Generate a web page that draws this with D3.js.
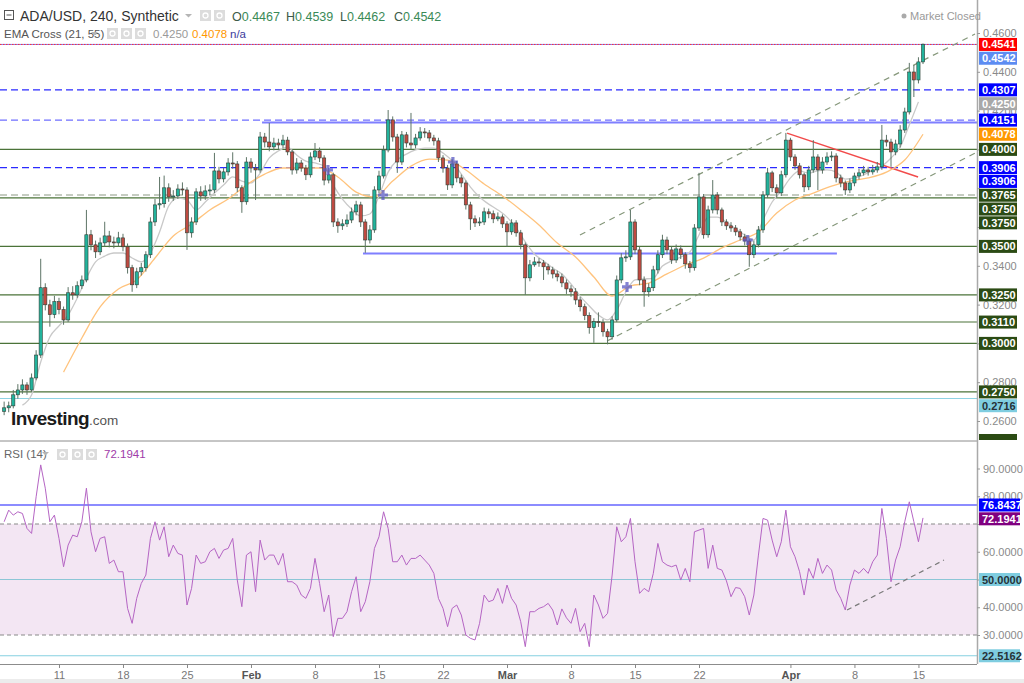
<!DOCTYPE html>
<html><head><meta charset="utf-8">
<script src="https://cdnjs.cloudflare.com/ajax/libs/d3/7.8.5/d3.min.js"></script>
<style>
body{margin:0;background:#fff;}
svg{display:block;font-family:"Liberation Sans",Arial,sans-serif;}
</style>
</head><body>
<svg id="chart" width="1024" height="683"></svg>
<script>
// ---------------- DATA ----------------
const candleStartUTC = Date.UTC(2021, 0, 5, 0, 0);   // first 12h candle
const candleHours = 12;
const firstOpen = 0.2650;
const closes = [
.2668,.2678,.2735,.2760,.2786,.2760,.2822,.2940,.3287,.3199,
.3148,.3215,.3174,.3121,.3261,.3250,.3297,.3327,.3560,.3508,
.3472,.3518,.3554,.3523,.3518,.3544,.3498,.3390,.3302,.3369,
.3390,.3457,.3626,.3714,.3720,.3802,.3755,.3760,.3796,.3791,
.3570,.3626,.3781,.3760,.3786,.3791,.3889,.3848,.3884,.3930,
.3925,.3802,.3730,.3935,.3904,.3894,.4064,.4038,.4013,.4033,
.4023,.4048,.3987,.3894,.3930,.3904,.3869,.3961,.3992,.3956,
.3842,.3869,.3626,.3606,.3616,.3636,.3678,.3714,.3626,.3533,
.3585,.3791,.3863,.3997,.4152,.4064,.3935,.4075,.4033,.4023,
.4059,.4090,.4085,.4059,.4044,.3956,.3904,.3817,.3925,.3853,
.3827,.3714,.3642,.3621,.3626,.3678,.3668,.3642,.3652,.3616,
.3575,.3621,.3570,.3508,.3338,.3405,.3420,.3415,.3395,.3379,
.3358,.3343,.3312,.3281,.3266,.3224,.3189,.3143,.3081,.3112,
.3107,.3060,.3034,.3121,.3327,.3441,.3446,.3626,.3482,.3327,
.3266,.3287,.3379,.3457,.3533,.3482,.3430,.3487,.3457,.3410,
.3390,.3595,.3755,.3560,.3688,.3765,.3688,.3626,.3606,.3595,
.3575,.3549,.3528,.3457,.3508,.3585,.3765,.3879,.3802,.3776,
.3869,.4048,.3961,.3915,.3869,.3807,.3894,.3961,.3894,.3935,
.3961,.3966,.3853,.3827,.3791,.3827,.3863,.3879,.3894,.3884,
.3894,.3910,.4048,.4038,.3987,.4028,.4100,.4193,.4399,.4358,
.4451,.4542];
const highs = [
.2700,.2700,.2760,.2790,.2815,.2800,.2845,.2965,.3436,.3310,
.3225,.3245,.3235,.3190,.3290,.3295,.3320,.3350,.3688,.3585,
.3530,.3545,.3627,.3580,.3550,.3575,.3565,.3515,.3405,.3390,
.3415,.3475,.3650,.3745,.3858,.3865,.3825,.3790,.3820,.3830,
.3805,.3650,.3800,.3810,.3815,.3820,.3982,.3910,.3905,.3955,
.3985,.3940,.3815,.3960,.3955,.3925,.4090,.4085,.4136,.4060,
.4055,.4075,.4065,.4000,.3955,.3945,.3920,.3985,.4033,.4010,
.3970,.3905,.3880,.3645,.3640,.3665,.3700,.3735,.3730,.3640,
.3610,.3810,.3890,.4020,.4203,.4170,.4080,.4095,.4090,.4188,
.4080,.4115,.4110,.4100,.4075,.4060,.3970,.3920,.3950,.3940,
.3870,.3840,.3730,.3660,.3650,.3700,.3695,.3685,.3675,.3665,
.3630,.3640,.3635,.3585,.3520,.3430,.3445,.3440,.3430,.3410,
.3395,.3375,.3360,.3330,.3300,.3285,.3240,.3205,.3160,.3130,
.3160,.3125,.3075,.3140,.3350,.3465,.3480,.3688,.3640,.3500,
.3345,.3310,.3400,.3480,.3560,.3550,.3500,.3510,.3505,.3470,
.3425,.3615,.3879,.3770,.3710,.3842,.3780,.3700,.3640,.3625,
.3610,.3590,.3565,.3540,.3530,.3605,.3785,.3905,.3890,.3820,
.3890,.4085,.4060,.3975,.3930,.3880,.3915,.4048,.3975,.3960,
.3985,.3990,.3980,.3870,.3840,.3850,.3880,.3900,.3915,.3910,
.3920,.3935,.4126,.4075,.4055,.4050,.4125,.4215,.4446,.4435,
.4475,.4546];
const lows = [
.2630,.2645,.2665,.2715,.2740,.2735,.2750,.2810,.2925,.3170,
.3086,.3130,.3150,.3096,.3110,.3225,.3235,.3280,.3315,.3480,
.3440,.3455,.3500,.3495,.3490,.3500,.3475,.3360,.3266,.3285,
.3350,.3370,.3440,.3605,.3690,.3700,.3730,.3735,.3745,.3765,
.3482,.3545,.3610,.3735,.3740,.3765,.3775,.3825,.3830,.3865,
.3900,.3780,.3673,.3715,.3880,.3739,.3880,.4010,.3990,.3995,
.4000,.4005,.3970,.3870,.3875,.3885,.3842,.3855,.3945,.3935,
.3815,.3825,.3600,.3570,.3585,.3600,.3620,.3660,.3600,.3467,
.3515,.3570,.3775,.3850,.3985,.4040,.3879,.3920,.4010,.4000,
.4005,.4045,.4060,.4040,.4020,.3935,.3880,.3791,.3800,.3830,
.3805,.3690,.3585,.3600,.3605,.3610,.3645,.3620,.3630,.3595,
.3498,.3560,.3550,.3485,.3250,.3320,.3395,.3395,.3327,.3355,
.3335,.3320,.3290,.3255,.3240,.3200,.3165,.3120,.3050,.3003,
.3085,.3035,.2995,.3020,.3110,.3310,.3420,.3430,.3460,.3300,
.3189,.3240,.3270,.3360,.3440,.3460,.3410,.3415,.3435,.3385,
.3365,.3375,.3580,.3540,.3545,.3670,.3665,.3605,.3585,.3575,
.3555,.3530,.3505,.3395,.3440,.3495,.3570,.3750,.3780,.3750,
.3760,.3855,.3940,.3895,.3850,.3780,.3790,.3880,.3790,.3875,
.3920,.3940,.3830,.3805,.3765,.3775,.3810,.3845,.3865,.3865,
.3870,.3880,.3895,.4015,.3910,.3970,.4010,.4085,.4180,.4270,
.4340,.4440];
// EMA 21 (grey) read every 2 candles starting at candle 4
const ema21Start = 4, ema21Step = 2;
const ema21Values = [
0.2682,0.2734,0.2904,0.3033,0.3090,0.3146,0.3234,0.3337,0.3420,0.3450,
0.3466,0.3466,0.3440,0.3420,0.3466,0.3574,0.3708,0.3749,0.3739,0.3688,
0.3729,0.3775,0.3816,0.3858,0.3837,0.3827,0.3878,0.3956,0.3992,0.4012,
0.3971,0.3940,0.3930,0.3914,0.3816,0.3744,0.3693,0.3657,0.3667,0.3760,
0.3883,0.3945,0.3976,0.3997,0.4007,0.4007,0.3981,0.3940,0.3873,0.3806,
0.3755,0.3718,0.3688,0.3651,0.3595,0.3523,0.3461,0.3425,0.3389,0.3358,
0.3306,0.3244,0.3193,0.3146,0.3121,0.3172,0.3265,0.3327,0.3332,0.3337,
0.3399,0.3425,0.3445,0.3471,0.3559,0.3651,0.3651,0.3626,0.3590,0.3559,
0.3533,0.3636,0.3729,0.3786,0.3853,0.3889,0.3878,0.3889,0.3894,0.3883,
0.3847,0.3853,0.3868,0.3894,0.3914,0.3956,0.4012,0.4126,0.4245];
// EMA 55 (orange) read every 4 candles starting at candle 13
const ema55Start = 13, ema55Step = 4;
const ema55Values = [
0.2852,0.3028,0.3188,0.3280,0.3327,0.3440,0.3554,0.3615,0.3688,0.3744,
0.3816,0.3873,0.3904,0.3904,0.3904,0.3858,0.3780,0.3755,0.3837,0.3914,
0.3950,0.3945,0.3894,0.3822,0.3760,0.3688,0.3610,0.3517,0.3445,0.3342,
0.3244,0.3296,0.3311,0.3358,0.3404,0.3440,0.3492,0.3533,0.3574,0.3672,
0.3739,0.3775,0.3811,0.3837,0.3853,0.3883,0.3945,0.4078];
// RSI(14) read at each candle
const rsiValues = [
70.8,75.0,73.2,74.4,73.8,68.4,66.6,79.8,91.3,82.9,
70.8,73.2,64.8,54.6,62.4,66.0,65.4,70.8,82.9,67.2,
60.0,64.8,65.4,55.8,57.0,52.8,52.8,39.6,34.2,43.2,
48.6,51.6,64.8,70.8,64.2,69.0,58.2,62.4,59.4,58.8,
40.8,46.8,58.8,55.8,56.4,60.0,61.2,57.6,60.6,61.2,
64.8,49.8,40.2,58.8,60.0,45.6,64.2,57.0,58.8,58.8,
55.2,59.4,49.2,49.2,48.0,44.4,43.2,46.8,57.6,48.6,
38.4,44.4,29.4,36.0,36.0,38.4,45.6,51.0,38.4,42.0,
49.2,61.2,65.4,74.4,68.4,56.4,56.4,58.8,55.2,57.6,
57.6,58.8,57.0,55.2,52.2,43.2,39.6,33.0,39.6,40.8,
37.2,30.0,28.8,28.2,34.2,44.4,42.0,42.6,46.8,41.4,
48.0,43.2,40.8,34.8,25.8,38.4,38.4,39.6,40.2,41.4,
39.0,33.6,39.4,36.2,34.2,39.6,31.2,34.2,25.8,44.4,
40.8,36.0,37.8,51.6,69.0,63.6,65.4,72.0,56.4,45.0,
46.8,45.6,52.2,63.0,56.4,55.2,54.6,55.2,49.8,54.0,
49.2,67.2,67.8,68.4,54.0,62.4,54.0,53.4,49.5,43.8,
47.1,46.8,43.8,37.2,44.4,58.8,72.0,71.4,64.2,58.2,
63.6,75.0,61.8,58.2,52.8,44.4,54.0,50.4,57.6,52.2,
55.2,53.4,46.2,43.2,39.0,48.0,53.4,52.2,54.0,52.2,
56.4,58.8,75.6,64.8,49.2,57.0,61.8,70.8,78.0,70.8,
63.6,72.1941];

// horizontal price levels and their kinds
const levelValues = [0.4541, 0.4307, 0.4151, 0.4000, 0.3906, 0.3765, 0.3750, 0.3500, 0.3250, 0.3110, 0.3000, 0.2750, 0.2716];
const levelKinds  = ["alert","blueDash","lightBlueDash","green","blueDash","grayDash","green","green","green","green","green","green","cyan"];
// drawn segments: [start, end, startPrice, endPrice, kind]
const segmentLines = [
  ["2021-02-02T05:00", "2021-04-21T09:43", 0.4139, 0.4139, "blueSolid"],
  ["2021-02-13T06:00", "2021-04-06T02:00", 0.3464, 0.3464, "blueSolid"],
  ["2021-03-08T23:30", "2021-04-21T04:30", 0.3559, 0.4595, "channel"],
  ["2021-03-11T22:30", "2021-04-21T04:30", 0.3012, 0.3981, "channel"],
  ["2021-03-31T15:00", "2021-04-14T23:00", 0.4084, 0.3858, "red"]
];
// EMA cross markers [time, price]
const crossMarkers = [
  ["2021-02-09T10:00", 0.3894], ["2021-02-15T10:30", 0.3765], ["2021-02-23T02:00", 0.3935],
  ["2021-03-14T03:00", 0.3291], ["2021-03-27T08:00", 0.3533]
];
// RSI trend line [time, rsi]
const rsiTrend = [["2021-04-07T04:30", 39.0], ["2021-04-17T19:00", 57.0]];
// right axis price labels (top to bottom) and kinds
const priceLabelValues = [0.4541, 0.4542, 0.4307, 0.4250, 0.4151, 0.4078, 0.4000, 0.3906, 0.3906, 0.3765, 0.3750, 0.3750, 0.3500, 0.3250, 0.3110, 0.3000, 0.2750, 0.2716];
const priceLabelKinds  = ["red","last","blue","ema21","blue","ema55","green","blue","blue","green","green","green","green","green","green","green","green","cyan"];
const priceTicks = [0.26,0.28,0.30,0.32,0.34,0.36,0.38,0.40,0.42,0.44,0.46];
const rsiTicks = [30,40,50,60,70,80,90];
const rsiLabelValues = [76.8437, 72.1941, 50.0000, 22.5162];
const rsiLabelKinds = ["blue","purple","cyan","cyan"];
const timeTicks = ["2021-01-11","2021-01-18","2021-01-25","2021-02-01","2021-02-08","2021-02-15","2021-02-22","2021-03-01","2021-03-08","2021-03-15","2021-03-22","2021-04-01","2021-04-08","2021-04-15"];
const timeTickLabels = ["11","18","25","Feb","8","15","22","Mar","8","15","22","Apr","8","15"];
const ohlcLetters = ["O","H","L","C"];
const ohlcValues = ["0.4467","0.4539","0.4462","0.4542"];
const emaHeaderValues = ["0.4250","0.4078"];

// ---------------- CHART ----------------
const svg = d3.select("#chart");
const plotRight = 977, mainBottom = 441, rsiBottom = 664;
const D = s => new Date(s + (s.length <= 10 ? "T00:00Z" : "Z"));
const x = d3.scaleUtc().domain([new Date(Date.UTC(2021,0,4,13,9)), new Date(Date.UTC(2021,3,21,9,43))]).range([0, plotRight]);
const yP = d3.scaleLinear().domain([0.26, 0.46]).range([421, 33]);
const yR = d3.scaleLinear().domain([0, 100]).range([718.25, 440.75]);
const tOf = i => new Date(candleStartUTC + i * candleHours * 3600e3);

const defs = svg.append("defs");
defs.append("clipPath").attr("id","clipMain").append("rect").attr("x",0).attr("y",0).attr("width",plotRight).attr("height",mainBottom);
defs.append("clipPath").attr("id","clipRsi").append("rect").attr("x",0).attr("y",mainBottom).attr("width",plotRight).attr("height",rsiBottom-mainBottom);

const main = svg.append("g").attr("clip-path","url(#clipMain)");
const rsiG = svg.append("g").attr("clip-path","url(#clipRsi)");

// level lines
const levelStyle = {
  alert:{c:"#7a7aff",w:1,d:null}, blueDash:{c:"#2a2aff",w:1.2,d:"7,4"}, lightBlueDash:{c:"#6f6fff",w:1.2,d:"7,4"},
  green:{c:"#4b7339",w:1.1,d:null}, grayDash:{c:"#8c9a84",w:1.2,d:"7,4"}, cyan:{c:"#8fd3e3",w:1.2,d:null}
};
levelValues.forEach((v,i)=>{
  const s = levelStyle[levelKinds[i]];
  main.append("line").attr("x1",0).attr("x2",plotRight).attr("y1",yP(v)).attr("y2",yP(v))
    .attr("stroke",s.c).attr("stroke-width",s.w).attr("stroke-dasharray",s.d);
  if (levelKinds[i]==="alert")
    main.append("line").attr("x1",0).attr("x2",plotRight).attr("y1",yP(v)).attr("y2",yP(v))
      .attr("stroke","#ff3030").attr("stroke-width",1).attr("stroke-dasharray","1.5,1.5");
});
const segStyle = {blueSolid:{c:"#7f7fff",w:2,d:null}, channel:{c:"#85977a",w:1.2,d:"6,5"}, red:{c:"#f24b4b",w:1.5,d:null}};
segmentLines.forEach(s=>{
  const st = segStyle[s[4]];
  main.append("line").attr("x1",x(D(s[0]))).attr("x2",x(D(s[1]))).attr("y1",yP(s[2])).attr("y2",yP(s[3]))
    .attr("stroke",st.c).attr("stroke-width",st.w).attr("stroke-dasharray",st.d);
});

// EMAs
const ema21Pts = ema21Values.map((v,k)=>[x(tOf(ema21Start+k*ema21Step)), yP(v)]);
const ema55Pts = ema55Values.map((v,k)=>[x(tOf(ema55Start+k*ema55Step)), yP(v)]);
const ln = d3.line().curve(d3.curveMonotoneX);
main.append("path").attr("d",ln(ema21Pts)).attr("fill","none").attr("stroke","#c9c9c9").attr("stroke-width",1.3);
main.append("path").attr("d",ln(ema55Pts)).attr("fill","none").attr("stroke","#ffc37d").attr("stroke-width",1.3);

// candles
const opens = [firstOpen].concat(closes.slice(0, -1));
const cg = main.append("g");
closes.forEach((c,i)=>{
  const o = opens[i], cx = x(tOf(i));
  const up = c >= o;
  cg.append("line").attr("x1",cx).attr("x2",cx).attr("y1",yP(highs[i])).attr("y2",yP(lows[i]))
    .attr("stroke","#5d7466").attr("stroke-width",1);
  const yt = yP(Math.max(o,c)), yb = yP(Math.min(o,c));
  cg.append("rect").attr("x",cx-1.6).attr("width",3.2).attr("y",yt).attr("height",Math.max(1,yb-yt))
    .attr("fill", up ? "#22b39c" : "#bf4a41").attr("stroke","#2f3f36").attr("stroke-width",0.6);
});

// cross markers
crossMarkers.forEach(m=>{
  main.append("path").attr("transform",`translate(${x(D(m[0]))},${yP(m[1])})`)
    .attr("d","M-5,0H5M0,-5V5").attr("stroke","#5a5ac4").attr("stroke-width",3.2).attr("opacity",0.75);
});

// Investing.com logo
const logo = svg.append("text").attr("x",11).attr("y",425).attr("fill","#1b1b1b");
logo.append("tspan").attr("font-size",19).attr("font-weight","bold").attr("letter-spacing","-0.6").text("Investing");
logo.append("tspan").attr("font-size",13.5).attr("fill","#555").text(".com");

// RSI panel
rsiG.append("rect").attr("x",0).attr("width",plotRight).attr("y",yR(70)).attr("height",yR(30)-yR(70)).attr("fill","#f3e6f3");
[70,30].forEach(v=>rsiG.append("line").attr("x1",0).attr("x2",plotRight).attr("y1",yR(v)).attr("y2",yR(v))
  .attr("stroke","#8a8a8a").attr("stroke-width",1.1).attr("stroke-dasharray","4,3"));
rsiG.append("line").attr("x1",0).attr("x2",plotRight).attr("y1",yR(50)).attr("y2",yR(50)).attr("stroke","#8cc6d6").attr("stroke-width",1.1);
rsiG.append("line").attr("x1",0).attr("x2",plotRight).attr("y1",yR(22.5162)).attr("y2",yR(22.5162)).attr("stroke","#86d0e0").attr("stroke-width",1.2);
rsiG.append("line").attr("x1",0).attr("x2",plotRight).attr("y1",yR(76.8437)).attr("y2",yR(76.8437)).attr("stroke","#1a1aff").attr("stroke-width",1.2);
rsiG.append("path").attr("d", d3.line()(rsiValues.map((v,i)=>[x(tOf(i)), yR(v)])))
  .attr("fill","none").attr("stroke","#b565c4").attr("stroke-width",1);
rsiG.append("line").attr("x1",x(D(rsiTrend[0][0]))).attr("x2",x(D(rsiTrend[1][0])))
  .attr("y1",yR(rsiTrend[0][1])).attr("y2",yR(rsiTrend[1][1]))
  .attr("stroke","#7a7a7a").attr("stroke-width",1.2).attr("stroke-dasharray","5,4");

// frame lines
svg.append("line").attr("x1",0).attr("x2",plotRight).attr("y1",mainBottom).attr("y2",mainBottom).attr("stroke","#8c8c8c");
svg.append("line").attr("x1",plotRight+0.5).attr("x2",plotRight+0.5).attr("y1",0).attr("y2",rsiBottom).attr("stroke","#a9a9a9").attr("stroke-width",1.5);
svg.append("rect").attr("x",0).attr("y",679).attr("width",1024).attr("height",4).attr("fill","#ececec");

// label placement (stacked so boxes don't overlap)
function stack(vals, scale){ let prev=-Infinity; return vals.map(v=>{ const yy=Math.max(scale(v), prev+13.8); prev=yy; return yy; }); }
const priceLabelY = stack(priceLabelValues, yP);
const rsiLabelY = stack(rsiLabelValues, yR);
function coverage(ty, boxes){ let cov=0; for(let p=ty-4;p<ty+4;p+=0.5){ if(boxes.some(b=>p>=b-6.5&&p<=b+6.5)) cov+=0.5; } return cov/8; }

// axes (tick labels hidden where the value boxes cover them)
const fmt4 = d3.format(".4f");
const axP = svg.append("g").attr("transform",`translate(${plotRight},0)`)
  .call(d3.axisRight(yP).tickValues(priceTicks).tickFormat(fmt4).tickSize(3).tickPadding(3));
const axR = svg.append("g").attr("transform",`translate(${plotRight},0)`)
  .call(d3.axisRight(yR).tickValues(rsiTicks).tickFormat(fmt4).tickSize(3).tickPadding(3));
axP.selectAll(".tick text").filter(d=>coverage(yP(d), priceLabelY.concat([437])) > 0.6).remove();
axR.selectAll(".tick text").filter(d=>coverage(yR(d), rsiLabelY) > 0.6).remove();
const axX = svg.append("g").attr("transform",`translate(0,${rsiBottom})`)
  .call(d3.axisBottom(x).tickValues(timeTicks.map(D)).tickFormat((d,i)=>timeTickLabels[i]).tickSize(4).tickPadding(3));
[axP,axR].forEach(a=>{ a.select(".domain").remove(); a.selectAll("line").attr("stroke","#999");
  a.selectAll("text").attr("fill","#8a8a8a").attr("font-size",11).attr("font-family","Liberation Sans, Arial, sans-serif"); });
axX.select(".domain").attr("stroke","#8c8c8c").attr("d",`M0,0.5H${plotRight}`);
axX.selectAll("line").attr("stroke","#888");
axX.selectAll("text").attr("fill",(d,i)=>/[A-Z]/.test(timeTickLabels[i])?"#555":"#777")
  .attr("font-weight",(d,i)=>/[A-Z]/.test(timeTickLabels[i])?"bold":"normal")
  .attr("font-size",11).attr("font-family","Liberation Sans, Arial, sans-serif");

// right axis labels
const lblColor = {red:["#ff0000","#fff"], last:["#5d8cf2","#fff"], blue:["#0000ff","#fff"], ema21:["#a8a8a8","#fff"],
  ema55:["#ff9800","#fff"], green:["#2b4b14","#fff"], cyan:["#7fcde0","#263238"], purple:["#800080","#fff"]};
function drawLabels(vals, kinds, ys, width){
  vals.forEach((v,i)=>{
    const yy = ys[i], c = lblColor[kinds[i]];
    svg.append("rect").attr("x",plotRight+2).attr("y",yy-6.5).attr("width",width).attr("height",13).attr("fill",c[0]);
    svg.append("text").attr("x",plotRight+5).attr("y",yy+4).attr("fill",c[1]).attr("font-size",11).attr("font-weight","bold").text(v.toFixed(4));
  });
}
drawLabels(priceLabelValues, priceLabelKinds, priceLabelY, 38);
svg.append("rect").attr("x",plotRight+2).attr("y",434).attr("width",38).attr("height",6).attr("fill","#2b4b14");
drawLabels(rsiLabelValues, rsiLabelKinds, rsiLabelY, 41);

// header
const hdr = svg.append("g");
hdr.append("rect").attr("x",4.5).attr("y",10.5).attr("width",9).attr("height",9).attr("fill","none").attr("stroke","#555");
hdr.append("line").attr("x1",6.5).attr("x2",11.5).attr("y1",15).attr("y2",15).attr("stroke","#555");
hdr.append("text").attr("x",20).attr("y",21).attr("font-size",14).attr("fill","#333").text("ADA/USD, 240, Synthetic");
function caret(xp, yp){ hdr.append("path").attr("d",`M${xp},${yp}l3.5,3.5l3.5,-3.5z`).attr("fill","#b5b5b5"); }
function icons(xs, yp){ xs.forEach(xx=>{ hdr.append("rect").attr("x",xx).attr("y",yp).attr("width",11).attr("height",11).attr("fill","#dcdcdc");
  hdr.append("circle").attr("cx",xx+5.5).attr("cy",yp+5.5).attr("r",2.5).attr("fill","none").attr("stroke","#fff").attr("stroke-width",1.3); }); }
caret(185, 14); icons([200,214], 10);
ohlcLetters.forEach((l,i)=>{
  const t = hdr.append("text").attr("x",232+i*54).attr("y",21).attr("font-size",12.5);
  t.append("tspan").attr("fill","#3c5a48").text(l);
  t.append("tspan").attr("fill","#3a8a57").text(ohlcValues[i]);
});
hdr.append("text").attr("x",4).attr("y",38).attr("font-size",11.5).attr("fill","#555").text("EMA Cross (21, 55)");
caret(91, 32); icons([107,121,135], 28);
hdr.append("text").attr("x",153).attr("y",38).attr("font-size",11.5).attr("fill","#9a9a9a").text(emaHeaderValues[0]);
hdr.append("text").attr("x",192).attr("y",38).attr("font-size",11.5).attr("fill","#ff9800").text(emaHeaderValues[1]);
hdr.append("text").attr("x",230).attr("y",38).attr("font-size",11.5).attr("fill","#3c3c9c").text("n/a");
hdr.append("circle").attr("cx",904).attr("cy",16).attr("r",2.5).attr("fill","#aaa");
hdr.append("text").attr("x",910).attr("y",20).attr("font-size",11).attr("fill","#9a9a9a").text("Market Closed");
hdr.append("text").attr("x",4).attr("y",458).attr("font-size",11.5).attr("fill","#666").text("RSI (14)");
caret(42, 452); icons([57,72,86], 449);
hdr.append("text").attr("x",104).attr("y",458).attr("font-size",11.5).attr("fill","#a03ca8").text(rsiValues[rsiValues.length-1].toFixed(4));
</script>
</body></html>
